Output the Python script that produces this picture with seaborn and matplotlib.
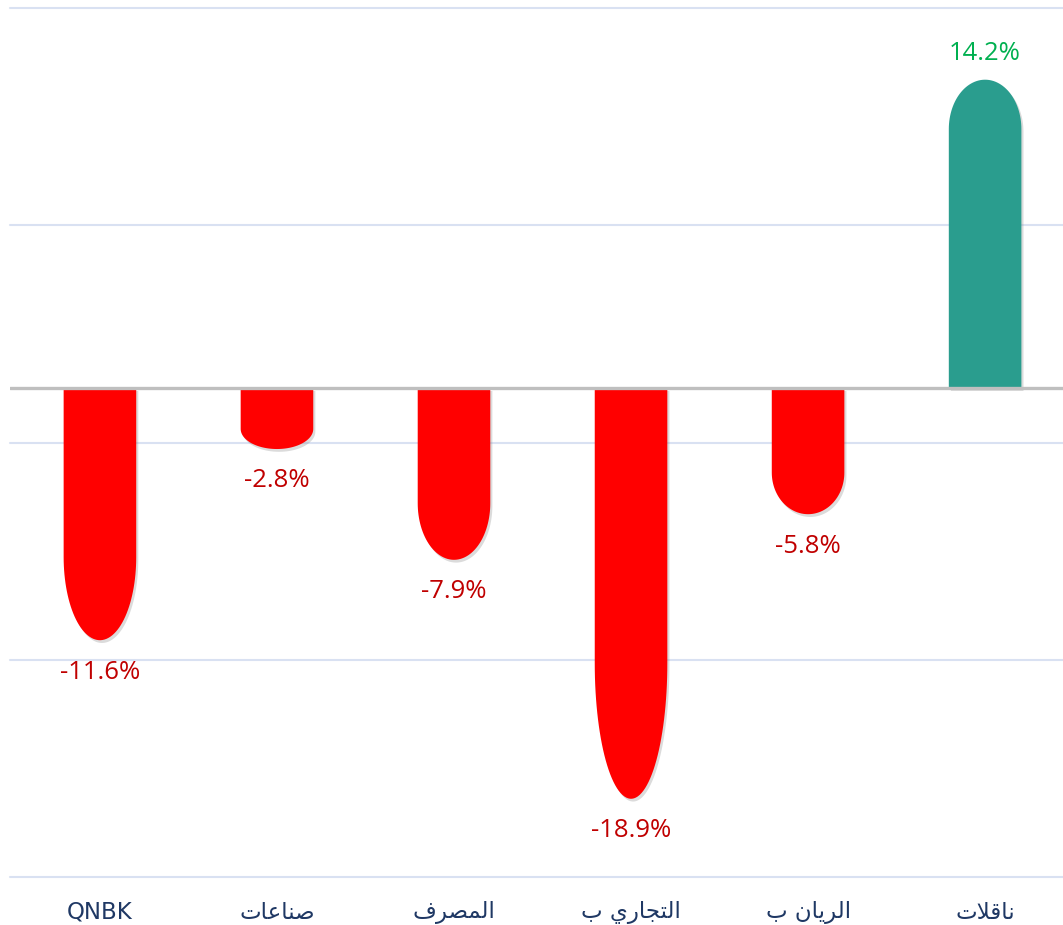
import numpy as np
import pandas as pd
import matplotlib
matplotlib.use('Agg')
import matplotlib.pyplot as plt
import matplotlib.patheffects as pe
from matplotlib.path import Path
from matplotlib.patches import PathPatch
import seaborn as sns

# data (left to right)
categories = ['QNBK', 'صناعات', 'المصرف', 'التجاري ب', 'الريان ب', 'ناقلات']
changes = [-11.6, -2.8, -7.9, -18.9, -5.8, 14.2]
grid_levels = [17.5, 7.5, -2.5, -12.5, -22.5]

# minimal arabic shaping (matplotlib has no shaping / bidi)
FORMS = {
    'ا': ('\ufe8d', '\ufe8e', None, None),
    'ب': ('\ufe8f', '\ufe90', '\ufe91', '\ufe92'),
    'ت': ('\ufe95', '\ufe96', '\ufe97', '\ufe98'),
    'ج': ('\ufe9d', '\ufe9e', '\ufe9f', '\ufea0'),
    'ر': ('\ufead', '\ufeae', None, None),
    'ص': ('\ufeb9', '\ufeba', '\ufebb', '\ufebc'),
    'ع': ('\ufec9', '\ufeca', '\ufecb', '\ufecc'),
    'ف': ('\ufed1', '\ufed2', '\ufed3', '\ufed4'),
    'ق': ('\ufed5', '\ufed6', '\ufed7', '\ufed8'),
    'ل': ('\ufedd', '\ufede', '\ufedf', '\ufee0'),
    'م': ('\ufee1', '\ufee2', '\ufee3', '\ufee4'),
    'ن': ('\ufee5', '\ufee6', '\ufee7', '\ufee8'),
    'ي': ('\ufef1', '\ufef2', '\ufef3', '\ufef4'),
}


def shape_arabic(text):
    if not any(c in FORMS for c in text):
        return text
    chars = list(text)
    n = len(chars)
    fwd = lambda c: c in FORMS and FORMS[c][2] is not None
    res = []
    i = 0
    while i < n:
        c = chars[i]
        if c not in FORMS:
            res.append(c)
            i += 1
            continue
        join_prev = i > 0 and fwd(chars[i - 1])
        if c == 'ل' and i + 1 < n and chars[i + 1] == 'ا':
            res.append('\ufefc' if join_prev else '\ufefb')
            i += 2
            continue
        nxt = chars[i + 1] if i + 1 < n else None
        join_next = fwd(c) and nxt in FORMS
        iso, fin, ini, med = FORMS[c]
        if join_prev and join_next:
            res.append(med)
        elif join_prev:
            res.append(fin)
        elif join_next:
            res.append(ini)
        else:
            res.append(iso)
        i += 1
    return ''.join(res)[::-1]


df = pd.DataFrame({'Company': categories, 'Change': changes})
colors = {c: ('#FF0000' if v < 0 else '#2A9D8E') for c, v in zip(categories, changes)}

sns.set_theme(style='white')
fig = plt.figure(figsize=(10.63, 9.25), dpi=100)
ax = fig.add_axes([10 / 1063, 48 / 925, 1053 / 1063, 869 / 925])

sns.barplot(data=df, x='Company', y='Change', hue='Company', palette=colors,
            saturation=1, legend=False, width=0.41, linewidth=0, ax=ax)

ax.set_xlim(-0.508, 5.44)
ax.set_ylim(-22.5, 17.5)

for lvl in grid_levels:
    ax.axhline(lvl, color='#D9E1F2', lw=1.5, zorder=0, clip_on=False)
ax.axhline(0, color='#BFBFBF', lw=2.4, zorder=5)

# value labels
for cont in ax.containers:
    v = cont.datavalues[0]
    txts = ax.bar_label(cont, labels=[f'{v:.1f}%'], padding=(14 if v < 0 else 10),
                        fontsize=18.5, family='Open Sans')
    for t in txts:
        t.set_color('#C00000' if v < 0 else '#00B050')

# replace rectangles by bullet-shaped bars
for bar in ax.patches:
    x0 = bar.get_x()
    w = bar.get_width()
    v = bar.get_height()
    s = np.sign(v)
    cap = abs(v) * (0.33 if v < 0 else 0.16)
    y_start = v - s * cap
    t = np.linspace(np.pi, 0, 60)
    xs = x0 + w / 2 + (w / 2) * np.cos(t)
    ys = y_start + s * cap * np.sin(t)
    verts = [(x0, 0), (x0, y_start)] + list(zip(xs, ys)) + [(x0 + w, y_start), (x0 + w, 0), (x0, 0)]
    codes = [Path.MOVETO] + [Path.LINETO] * (len(verts) - 2) + [Path.CLOSEPOLY]
    patch = PathPatch(Path(verts, codes), facecolor=bar.get_facecolor(), edgecolor='none', zorder=3)
    patch.set_path_effects([pe.SimplePatchShadow(offset=(1.5, -2), shadow_rgbFace='#888888', alpha=0.3),
                            pe.Normal()])
    ax.add_patch(patch)
    bar.set_alpha(0)

ax.set_xticks(range(len(categories)))
ax.set_xticklabels([shape_arabic(c) for c in categories], fontsize=16.5,
                   color='#1F3864', family='DejaVu Sans')
ax.tick_params(axis='x', length=0, pad=17)
ax.set_yticks([])
ax.set_xlabel('')
ax.set_ylabel('')
sns.despine(left=True, bottom=True)

fig.savefig('out.png', dpi=100)
